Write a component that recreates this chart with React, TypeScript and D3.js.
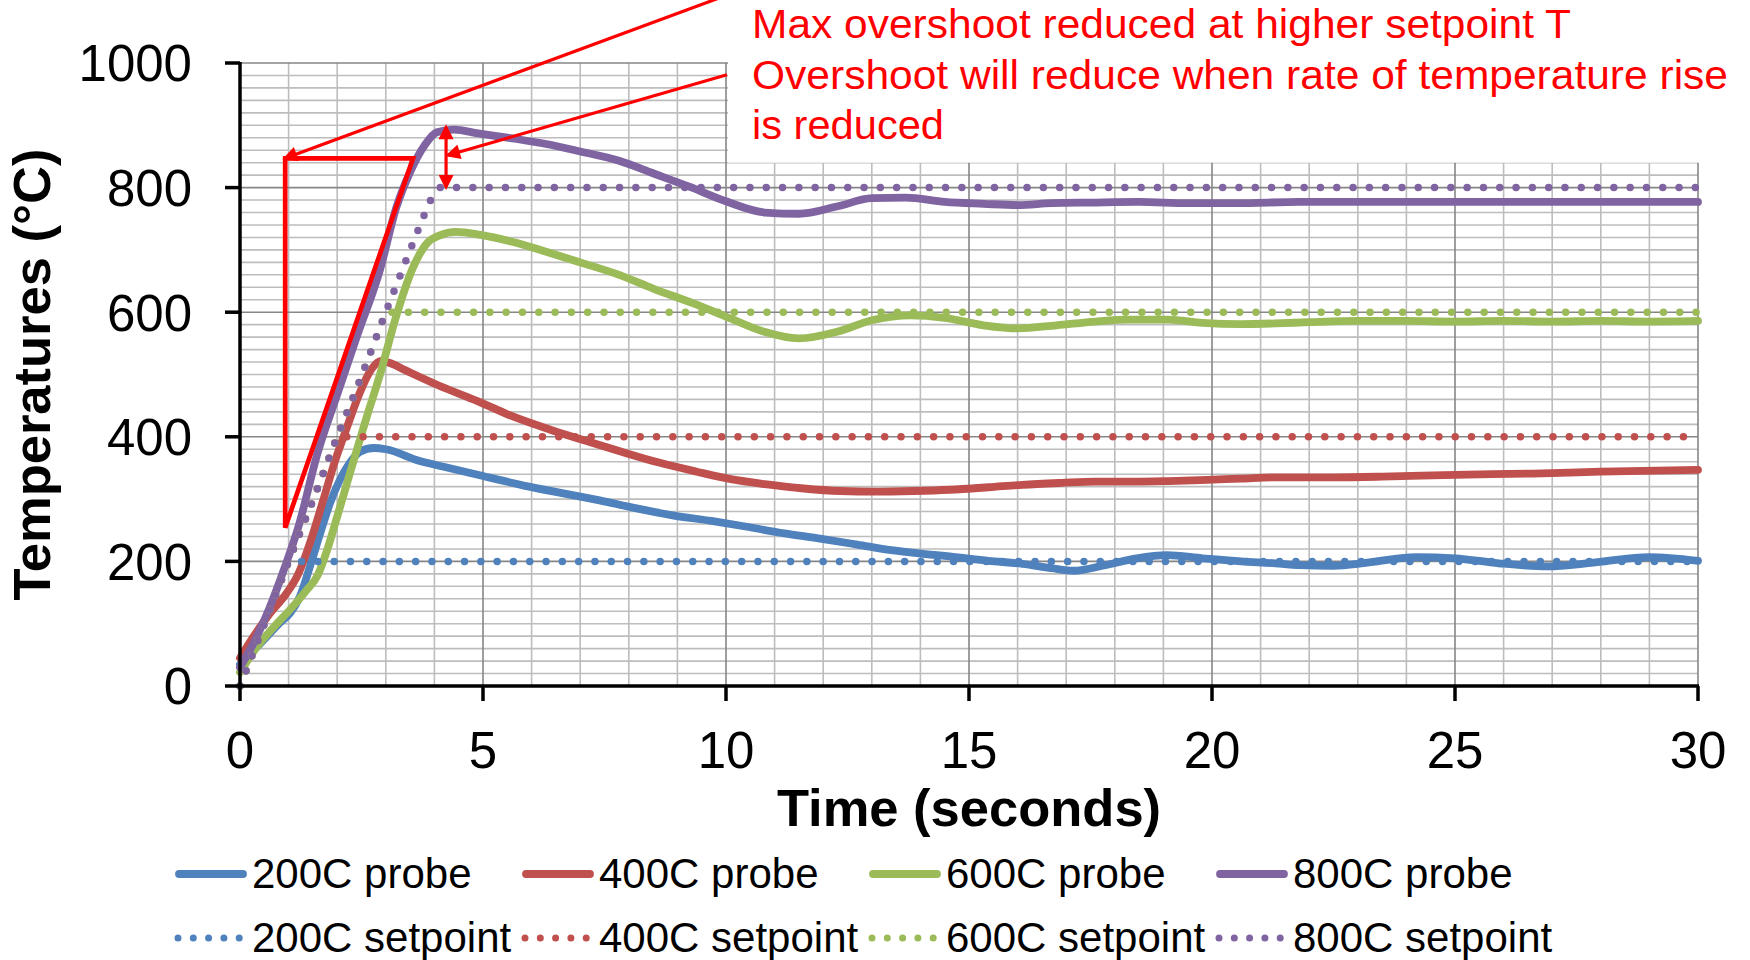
import React, { useEffect, useRef } from 'react';
import * as d3 from 'd3';

// axis ticks
const timeTicks = [0, 5, 10, 15, 20, 25, 30];
const tempTicks = [0, 200, 400, 600, 800, 1000];

// probe readings [seconds, °C]
const probe200 = [
  [0, 35], [0.5, 75], [0.8, 100], [1.03, 117], [1.23, 143], [1.44, 192], [1.65, 245], [1.85, 293],
  [2.05, 330], [2.25, 357], [2.47, 376], [2.75, 382], [3.0, 380], [3.7, 361], [4.3, 350], [5.0, 337],
  [5.95, 320], [7.4, 298], [8.16, 285], [8.9, 274], [9.7, 265], [10.4, 256], [11.2, 245],
  [11.9, 237], [12.7, 227], [13.4, 218], [14.2, 211], [14.6, 208], [15.4, 201], [16.1, 196], [16.7, 189],
  [17.15, 185], [17.8, 194], [18.45, 205], [19.07, 210], [19.8, 205], [20.6, 200], [21.3, 197], [21.8, 194],
  [22.5, 193], [23.2, 198], [24.2, 207], [25.0, 205], [25.9, 197], [26.9, 192], [27.85, 198], [29.0, 207], [30, 201],
];
const probe400 = [
  [0, 45], [0.3, 82], [0.6, 115], [0.95, 148], [1.2, 180], [1.45, 232], [1.7, 295], [1.95, 360],
  [2.2, 415], [2.45, 468], [2.7, 508], [2.9, 522], [3.1, 518], [3.4, 507], [4.1, 482], [4.9, 457],
  [5.6, 433], [6.4, 411], [7.1, 394], [7.85, 376], [8.6, 359], [9.4, 344], [10.1, 332], [10.8, 324],
  [11.6, 317], [12.35, 313], [13.1, 312], [13.85, 313], [14.6, 315], [15.4, 319], [16.1, 323], [16.9, 326],
  [17.6, 328], [18.4, 328], [19.1, 329], [19.9, 331], [20.6, 333], [21.4, 335], [22.5, 335], [23.5, 336],
  [25, 339], [26.6, 341], [28, 344], [30, 347],
];
const probe600 = [
  [0, 22], [0.35, 63], [0.7, 95], [1.0, 120], [1.35, 152], [1.6, 178], [1.8, 220], [2.0, 272],
  [2.2, 325], [2.4, 378], [2.6, 430], [2.9, 505], [3.2, 590], [3.55, 670], [3.85, 711], [4.1, 723],
  [4.45, 729], [4.95, 724], [5.6, 713], [6.3, 697], [7.0, 680], [7.8, 660], [8.5, 638],
  [9.33, 614], [10.0, 593], [10.77, 569], [11.5, 558], [12.3, 569], [13.0, 587], [13.8, 595], [14.5, 591],
  [15.3, 579], [16.0, 574], [16.8, 579], [17.6, 585], [18.3, 588], [19.1, 588], [19.8, 583], [20.6, 581],
  [21.3, 582], [22, 584], [23, 586], [24, 586], [25, 585], [26, 586], [27, 585], [28, 586], [29, 585], [30, 586],
];
const probe800 = [
  [0, 30], [0.3, 72], [0.6, 124], [0.9, 186], [1.2, 255], [1.6, 375], [2.0, 468], [2.4, 560],
  [2.88, 668], [3.22, 769], [3.5, 825], [3.8, 868], [4.05, 889], [4.4, 893], [4.9, 887], [5.6, 879],
  [6.3, 870], [7.0, 858], [7.8, 843], [8.5, 823], [9.26, 801], [10.0, 778], [10.8, 760], [11.5, 758],
  [12.3, 770], [13.0, 783], [13.7, 784], [14.5, 777], [15.3, 774], [16.0, 772], [16.7, 775], [17.5, 776],
  [18.5, 777], [19.5, 775], [20.5, 775], [21.8, 777], [23, 777], [24, 777], [25, 777], [26, 777],
  [27, 777], [28, 777], [29, 777], [30, 777],
];

// setpoint ramps [seconds, °C]
const setpoint200 = [[0, 0], [0.5, 100], [1.0, 200], [30, 200]];
const setpoint400 = [[0, 0], [0.5, 100], [1.0, 200], [1.5, 298], [2.0, 400], [30, 400]];
const setpoint600 = [[0, 0], [0.5, 100], [1.0, 200], [1.5, 298], [2.0, 400], [2.5, 497], [3.0, 600], [30, 600]];
const setpoint800 = [
  [0, 0], [0.5, 100], [1.0, 200], [1.5, 298], [2.0, 400], [2.5, 497], [3.0, 600],
  [3.5, 700], [3.8, 758], [3.95, 785], [4.12, 800], [30, 800],
];

const probeNames = ['200C probe', '400C probe', '600C probe', '800C probe'];
const setpointNames = ['200C setpoint', '400C setpoint', '600C setpoint', '800C setpoint'];
const colors = ['#4f81bd', '#c0504d', '#9bbb59', '#8064a2'];

// annotation (in seconds / °C)
const noteLines = [
  'Max overshoot reduced at higher setpoint T',
  'Overshoot will reduce when rate of temperature rise',
  'is reduced',
];
const slopeTriangle = [[0.93, 847], [3.56, 847], [0.93, 254]];
const arrowMax = [[10.02, 1109], [0.93, 847]];
const arrowRate = [[10.02, 981], [4.28, 852]];
const overshootArrow = [[4.24, 897], [4.24, 801]];

export default function App() {
  const ref = useRef<SVGSVGElement>(null);

  useEffect(() => {
    const svg = d3.select(ref.current);
    svg.selectAll('*').remove();
    const font = '"Liberation Sans", Arial, sans-serif';

    const x = d3.scaleLinear().domain([0, 30]).range([240, 1698]);
    const y = d3.scaleLinear().domain([0, 1000]).range([686, 63]);

    const defs = svg.append('defs');
    defs.append('marker')
      .attr('id', 'head')
      .attr('viewBox', '0 0 10 10')
      .attr('refX', 8).attr('refY', 5)
      .attr('markerWidth', 17).attr('markerHeight', 15)
      .attr('markerUnits', 'userSpaceOnUse')
      .attr('orient', 'auto-start-reverse')
      .append('path').attr('d', 'M0,0 L10,5 L0,10 z').attr('fill', '#ff0000');

    // grid
    const g = svg.append('g');
    const minorH = d3.range(20, 1000, 20).filter(v => v % 200 !== 0);
    const minorV = d3.range(1, 30, 1).filter(v => v % 5 !== 0);
    g.selectAll('.mh').data(minorH).enter().append('line')
      .attr('x1', x(0)).attr('x2', x(30)).attr('y1', d => y(d)).attr('y2', d => y(d))
      .attr('stroke', '#bdbdbd').attr('stroke-width', 1.6);
    g.selectAll('.mv').data(minorV).enter().append('line')
      .attr('x1', d => x(d)).attr('x2', d => x(d)).attr('y1', y(0)).attr('y2', y(1000))
      .attr('stroke', '#bdbdbd').attr('stroke-width', 1.6);
    g.selectAll('.jh').data(tempTicks.slice(1)).enter().append('line')
      .attr('x1', x(0)).attr('x2', x(30)).attr('y1', d => y(d)).attr('y2', d => y(d))
      .attr('stroke', '#868686').attr('stroke-width', 1.6);
    g.selectAll('.jv').data(timeTicks.slice(1)).enter().append('line')
      .attr('x1', d => x(d)).attr('x2', d => x(d)).attr('y1', y(0)).attr('y2', y(1000))
      .attr('stroke', '#868686').attr('stroke-width', 1.6);

    // text box covers the grid
    svg.append('rect')
      .attr('x', x(10) + 2).attr('y', 0)
      .attr('width', 1750 - x(10)).attr('height', y(840))
      .attr('fill', '#fff');

    const smooth = d3.line().x(d => x(d[0])).y(d => y(d[1])).curve(d3.curveMonotoneX);
    const straight = d3.line().x(d => x(d[0])).y(d => y(d[1]));

    [probe200, probe400, probe600, probe800].forEach((s, i) => {
      svg.append('path').attr('d', smooth(s as any))
        .attr('fill', 'none').attr('stroke', colors[i])
        .attr('stroke-width', 7.8).attr('stroke-linecap', 'round').attr('stroke-linejoin', 'round');
    });
    [setpoint200, setpoint400, setpoint600, setpoint800].forEach((s, i) => {
      svg.append('path').attr('d', straight(s as any))
        .attr('fill', 'none').attr('stroke', colors[i])
        .attr('stroke-width', 7.5).attr('stroke-linecap', 'round')
        .attr('stroke-dasharray', '0 16.3');
    });

    // axes
    svg.append('line').attr('x1', x(0)).attr('x2', x(0)).attr('y1', y(1000) - 1).attr('y2', y(0) + 2)
      .attr('stroke', '#000').attr('stroke-width', 3.5);
    svg.append('line').attr('x1', x(0) - 2).attr('x2', x(30) + 1).attr('y1', y(0)).attr('y2', y(0))
      .attr('stroke', '#000').attr('stroke-width', 3.5);
    svg.selectAll('.yt').data(tempTicks).enter().append('line')
      .attr('x1', x(0) - 15).attr('x2', x(0)).attr('y1', d => y(d)).attr('y2', d => y(d))
      .attr('stroke', '#000').attr('stroke-width', 3.5);
    svg.selectAll('.xt').data(timeTicks).enter().append('line')
      .attr('x1', d => x(d)).attr('x2', d => x(d)).attr('y1', y(0)).attr('y2', y(0) + 15)
      .attr('stroke', '#000').attr('stroke-width', 3.5);

    svg.selectAll('.yl').data(tempTicks).enter().append('text')
      .attr('x', 192).attr('y', d => y(d)).attr('dy', '0.36em')
      .attr('text-anchor', 'end').attr('font-family', font).attr('font-size', 51)
      .text(d => d);
    svg.selectAll('.xl').data(timeTicks).enter().append('text')
      .attr('x', d => x(d)).attr('y', 768)
      .attr('text-anchor', 'middle').attr('font-family', font).attr('font-size', 51)
      .text(d => d);

    svg.append('text')
      .attr('x', (x(0) + x(30)) / 2).attr('y', 826)
      .attr('text-anchor', 'middle').attr('font-family', font).attr('font-size', 52.5).attr('font-weight', 'bold')
      .text('Time (seconds)');
    svg.append('text')
      .attr('transform', `translate(50,${(y(0) + y(1000)) / 2}) rotate(-90)`)
      .attr('text-anchor', 'middle').attr('font-family', font).attr('font-size', 52.5).attr('font-weight', 'bold')
      .text('Temperatures (°C)');

    // annotation
    const red = '#ff0000';
    svg.append('path')
      .attr('d', straight(slopeTriangle as any) + 'Z')
      .attr('fill', 'none').attr('stroke', red).attr('stroke-width', 4.7);
    [arrowMax, arrowRate].forEach(a => {
      svg.append('path').attr('d', straight(a as any))
        .attr('stroke', red).attr('stroke-width', 3.2).attr('fill', 'none')
        .attr('marker-end', 'url(#head)');
    });
    svg.append('path').attr('d', straight(overshootArrow as any))
      .attr('stroke', red).attr('stroke-width', 3.2).attr('fill', 'none')
      .attr('marker-start', 'url(#head)').attr('marker-end', 'url(#head)');

    const widths = [819, 976, 192];
    noteLines.forEach((t, i) => {
      svg.append('text')
        .attr('x', 752).attr('y', 38 + i * 50.5)
        .attr('font-family', font).attr('font-size', 41).attr('fill', red)
        .attr('textLength', widths[i]).attr('lengthAdjust', 'spacingAndGlyphs')
        .text(t);
    });

    // legend
    const colX = [175, 522, 869, 1216];
    const rowY = [874, 938];
    colX.forEach((cx, i) => {
      svg.append('line')
        .attr('x1', cx + 4).attr('x2', cx + 68).attr('y1', rowY[0]).attr('y2', rowY[0])
        .attr('stroke', colors[i]).attr('stroke-width', 7.8).attr('stroke-linecap', 'round');
      svg.append('text')
        .attr('x', cx + 77).attr('y', rowY[0] + 14)
        .attr('font-family', font).attr('font-size', 42)
        .text(probeNames[i]);
      svg.append('line')
        .attr('x1', cx + 3).attr('x2', cx + 66).attr('y1', rowY[1]).attr('y2', rowY[1])
        .attr('stroke', colors[i]).attr('stroke-width', 7).attr('stroke-linecap', 'round')
        .attr('stroke-dasharray', '0 15.3');
      svg.append('text')
        .attr('x', cx + 77).attr('y', rowY[1] + 14)
        .attr('font-family', font).attr('font-size', 42)
        .text(setpointNames[i]);
    });
  }, []);

  return (
    <svg ref={ref} width={1750} height={960}
      style={{ position: 'absolute', left: 0, top: 0, background: '#fff' }} />
  );
}
